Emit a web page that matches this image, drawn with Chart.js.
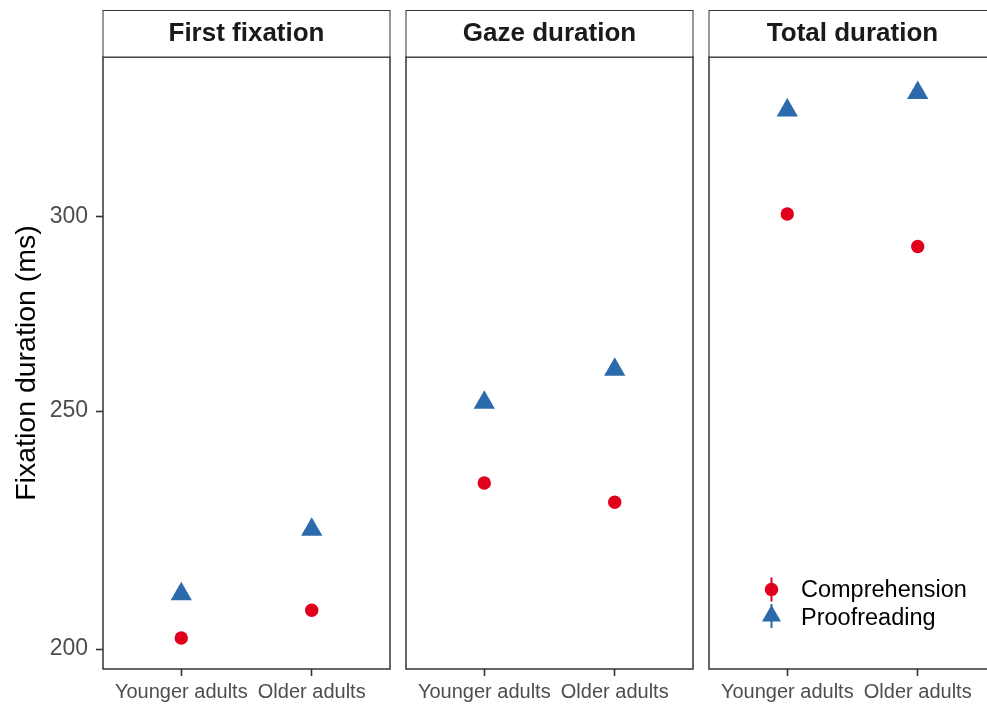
<!DOCTYPE html>
<html>
<head>
<meta charset="utf-8">
<title>Fixation duration by task and age group</title>
<script src="https://cdn.jsdelivr.net/npm/chart.js@4.4.0/dist/chart.umd.min.js"></script>
<style>
  html, body { margin: 0; padding: 0; background: #ffffff; width: 987px; height: 707px; overflow: hidden; }
  .panel { position: absolute; top: 0; }
</style>
</head>
<body>
<div class="panel" style="left:0px"><canvas id="panel0" width="394" height="707"></canvas></div>
<div class="panel" style="left:400px"><canvas id="panel1" width="300" height="707"></canvas></div>
<div class="panel" style="left:703px"><canvas id="panel2" width="300" height="707"></canvas></div>
<script>
// Age groups on the x axis of every facet
const groups = ['Younger adults', 'Older adults'];
// Facet titles
const measures = ['First fixation', 'Gaze duration', 'Total duration'];
// Reading task (series) names
const seriesNames = ['Comprehension', 'Proofreading'];

// Mean fixation durations (ms), one value per age group
const comprehensionFirst = [202.1, 207.4];
const proofreadingFirst  = [210.6, 223.7];
const comprehensionGaze  = [233.7, 229.5];
const proofreadingGaze   = [252.0, 259.9];
const comprehensionTotal = [300.7, 291.7];
const proofreadingTotal  = [331.4, 336.9];

// Log-scaled y axis ticks
const yTicks = [200, 250, 300];

const FONT = "'Liberation Sans', Arial, Helvetica, sans-serif";
const RED = '#E0001B';
const BLUE = '#2C6BAB';
const FRAME = '#333333';
const AXIS_TEXT = '#4D4D4D';

// Facet strip above each panel
const stripPlugin = {
  id: 'strip',
  afterDraw(chart, args, opts) {
    const { ctx, chartArea: ca } = chart;
    const top = 10.5, bottom = ca.top;
    ctx.save();
    ctx.fillStyle = '#ffffff';
    ctx.fillRect(ca.left, top, ca.right - ca.left, bottom - top);
    ctx.strokeStyle = FRAME;
    ctx.lineWidth = 1;
    ctx.strokeRect(ca.left, top, ca.right - ca.left, bottom - top);
    ctx.fillStyle = '#1A1A1A';
    ctx.font = 'bold 26px ' + FONT;
    ctx.textAlign = 'center';
    ctx.textBaseline = 'middle';
    ctx.fillText(opts.text, (ca.left + ca.right) / 2, (top + bottom) / 2 + 0.5);
    ctx.restore();
  }
};

// Panel frame drawn over the data
const framePlugin = {
  id: 'frame',
  afterDatasetsDraw(chart) {
    const { ctx, chartArea: ca } = chart;
    ctx.save();
    ctx.strokeStyle = FRAME;
    ctx.lineWidth = 1.5;
    ctx.strokeRect(ca.left, ca.top, ca.right - ca.left, ca.bottom - ca.top);
    ctx.restore();
  }
};

// Legend placed inside the last panel, lower right
const insetLegendPlugin = {
  id: 'insetLegend',
  afterDatasetsDraw(chart, args, opts) {
    if (!opts.show) return;
    const { ctx, chartArea: ca } = chart;
    const kx = ca.left + 62.5;
    const tx = ca.left + 92;
    const rows = [ca.bottom - 79.5, ca.bottom - 51.5];
    const ds = chart.data.datasets;
    ctx.save();
    // Comprehension key: point with a short range line
    ctx.strokeStyle = ds[0].backgroundColor;
    ctx.fillStyle = ds[0].backgroundColor;
    ctx.lineWidth = 2;
    ctx.beginPath();
    ctx.moveTo(kx, rows[0] - 12);
    ctx.lineTo(kx, rows[0] + 12);
    ctx.stroke();
    ctx.beginPath();
    ctx.arc(kx, rows[0], 6.7, 0, Math.PI * 2);
    ctx.fill();
    // Proofreading key: triangle with a short range line
    ctx.strokeStyle = ds[1].backgroundColor;
    ctx.fillStyle = ds[1].backgroundColor;
    const ty = rows[1] - 1.5, r = 11;
    ctx.beginPath();
    ctx.moveTo(kx, ty - 12);
    ctx.lineTo(kx, ty + 12);
    ctx.stroke();
    ctx.beginPath();
    ctx.moveTo(kx, ty - r);
    ctx.lineTo(kx + r * Math.sin(Math.PI / 3), ty + r / 2);
    ctx.lineTo(kx - r * Math.sin(Math.PI / 3), ty + r / 2);
    ctx.closePath();
    ctx.fill();
    // Labels
    ctx.fillStyle = '#000000';
    ctx.font = '23.5px ' + FONT;
    ctx.textAlign = 'left';
    ctx.textBaseline = 'middle';
    ctx.fillText(ds[0].label, tx, rows[0] + 1);
    ctx.fillText(ds[1].label, tx, rows[1] + 1);
    ctx.restore();
  }
};

function toPoints(values) {
  return values.map((v, i) => ({ x: i + 1, y: v }));
}

function makePanel(id, title, comp, proof, cfg) {
  return new Chart(document.getElementById(id), {
    type: 'scatter',
    data: {
      datasets: [
        {
          label: seriesNames[0],
          data: toPoints(comp),
          pointStyle: 'circle',
          pointRadius: 6.7,
          pointHoverRadius: 6.7,
          backgroundColor: RED,
          borderColor: RED,
          pointBorderWidth: 0
        },
        {
          label: seriesNames[1],
          data: toPoints(proof),
          pointStyle: 'triangle',
          pointRadius: 12.3,
          pointHoverRadius: 12.3,
          backgroundColor: BLUE,
          borderColor: BLUE,
          pointBorderWidth: 0
        }
      ]
    },
    options: {
      responsive: false,
      animation: false,
      events: [],
      layout: { autoPadding: false, padding: { top: 57, left: cfg.padLeft, right: cfg.padRight, bottom: 0 } },
      plugins: {
        legend: { display: false },
        tooltip: { enabled: false },
        strip: { text: title },
        insetLegend: { show: cfg.legend }
      },
      scales: {
        x: {
          type: 'linear',
          min: 0.4,
          max: 2.6,
          afterBuildTicks: s => { s.ticks = groups.map((g, i) => ({ value: i + 1 })); },
          afterFit: s => { s.height = 38; s.paddingLeft = 0; s.paddingRight = 0; },
          ticks: {
            callback: (v, i) => groups[i],
            color: AXIS_TEXT,
            font: { family: FONT, size: 20 },
            padding: 4,
            maxRotation: 0,
            autoSkip: false
          },
          grid: { drawOnChartArea: false, drawTicks: true, tickLength: 7, tickColor: FRAME, tickWidth: 1.6 },
          border: { display: false }
        },
        y: {
          type: 'logarithmic',
          display: cfg.showY,
          min: 196.3,
          max: 348.4,
          afterBuildTicks: s => { s.ticks = yTicks.map(v => ({ value: v })); },
          afterFit: s => { s.width = cfg.showY ? 103 : 0; },
          ticks: {
            callback: v => String(v),
            color: AXIS_TEXT,
            font: { family: FONT, size: 23 },
            padding: 8
          },
          grid: { drawOnChartArea: false, drawTicks: true, tickLength: 7, tickColor: FRAME, tickWidth: 1.6 },
          border: { display: false },
          title: {
            display: true,
            text: 'Fixation duration (ms)',
            color: '#000000',
            font: { family: FONT, size: 28.5, lineHeight: 1 },
            padding: { top: 13, bottom: 0 }
          }
        }
      }
    },
    plugins: [stripPlugin, framePlugin, insetLegendPlugin]
  });
}

makePanel('panel0', measures[0], comprehensionFirst, proofreadingFirst, { padLeft: 0, padRight: 4, showY: true, legend: false });
makePanel('panel1', measures[1], comprehensionGaze, proofreadingGaze, { padLeft: 6, padRight: 7, showY: false, legend: false });
makePanel('panel2', measures[2], comprehensionTotal, proofreadingTotal, { padLeft: 6, padRight: 7, showY: false, legend: true });
</script>
</body>
</html>
